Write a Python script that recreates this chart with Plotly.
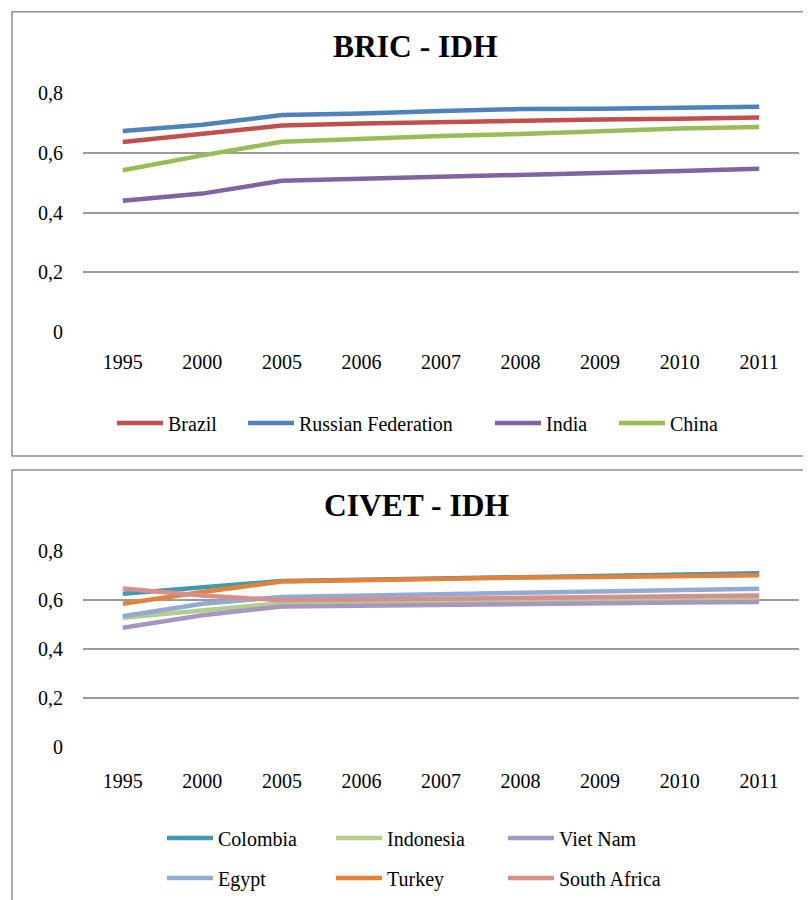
import plotly.graph_objects as go

# page has an 8px body margin; build the figure in reference pixels minus that offset
OFF = 8
W, H = 811 - OFF, 900 - OFF

years = ["1995", "2000", "2005", "2006", "2007", "2008", "2009", "2010", "2011"]
y_tickvals = [0, 0.2, 0.4, 0.6, 0.8]
y_ticktext = ["0", "0,2", "0,4", "0,6", "0,8"]

# BRIC
brazil = [0.637, 0.664, 0.692, 0.699, 0.704, 0.708, 0.712, 0.715, 0.719]
russia = [0.674, 0.695, 0.727, 0.732, 0.741, 0.747, 0.748, 0.753, 0.755]
india = [0.440, 0.464, 0.507, 0.513, 0.521, 0.527, 0.533, 0.540, 0.547]
china = [0.542, 0.592, 0.638, 0.648, 0.657, 0.664, 0.674, 0.682, 0.687]

# CIVET
colombia = [0.627, 0.654, 0.679, 0.684, 0.690, 0.695, 0.700, 0.706, 0.711]
indonesia = [0.529, 0.560, 0.588, 0.592, 0.596, 0.599, 0.602, 0.605, 0.608]
vietnam = [0.488, 0.539, 0.575, 0.579, 0.583, 0.586, 0.589, 0.591, 0.593]
egypt = [0.535, 0.586, 0.614, 0.620, 0.626, 0.631, 0.637, 0.643, 0.647]
turkey = [0.586, 0.634, 0.677, 0.683, 0.689, 0.693, 0.695, 0.700, 0.703]
south_africa = [0.648, 0.620, 0.600, 0.603, 0.606, 0.609, 0.612, 0.617, 0.620]

bric = [
    ("Brazil", brazil, "#C0504D"),
    ("Russian Federation", russia, "#4F81BD"),
    ("India", india, "#8064A2"),
    ("China", china, "#9BBB59"),
]
civet = [
    ("Colombia", colombia, "#4198AF"),
    ("Indonesia", indonesia, "#B5CC8E"),
    ("Viet Nam", vietnam, "#A697C2"),
    ("Egypt", egypt, "#93AAD2"),
    ("Turkey", turkey, "#E3823A"),
    ("South Africa", south_africa, "#D58F8D"),
]

# legend line-start positions in reference pixels (x, y)
bric_leg_pos = [(117, 423), (248, 423), (495, 423), (619, 423)]
civet_leg_pos = [(167, 838), (336, 838), (508, 838), (167, 878), (336, 878), (508, 878)]

FONT = "Liberation Serif, Times New Roman, DejaVu Serif, serif"


def px(x):
    return (x - OFF) / W


def py(y):
    return 1 - (y - OFF) / H


fig = go.Figure()
layout_legends = {}
k = 0


def leg(lx, ly):
    return dict(x=px(lx - 5), y=py(ly), xanchor="left", yanchor="middle",
                orientation="h", font=dict(family=FONT, size=20, color="#000"),
                bgcolor="rgba(0,0,0,0)", itemwidth=46, tracegroupgap=0)


for (name, vals, col), (lx, ly) in zip(bric, bric_leg_pos):
    k += 1
    lname = "legend" if k == 1 else f"legend{k}"
    fig.add_trace(go.Scatter(x=years, y=vals, name=name, mode="lines",
                             line=dict(color=col, width=4.5),
                             xaxis="x", yaxis="y", legend=lname))
    layout_legends[lname] = leg(lx, ly)
for (name, vals, col), (lx, ly) in zip(civet, civet_leg_pos):
    k += 1
    lname = f"legend{k}"
    fig.add_trace(go.Scatter(x=years, y=vals, name=name, mode="lines",
                             line=dict(color=col, width=4.5),
                             xaxis="x2", yaxis="y2", legend=lname))
    layout_legends[lname] = leg(lx, ly)

xd = [px(83), px(799)]
xcommon = dict(type="category", categoryorder="array", categoryarray=years,
               range=[-0.5, 8.5], showgrid=False, showline=False, zeroline=False,
               ticks="", tickfont=dict(family=FONT, size=20, color="#000"), domain=xd)
ycommon = dict(range=[-0.002, 0.802], tickvals=y_tickvals, ticktext=y_ticktext,
               showgrid=True, gridcolor="#9A9A9A", gridwidth=1.5, zeroline=False,
               showline=False, ticks="", tickfont=dict(family=FONT, size=20, color="#000"),
               ticklabelstandoff=19)

fig.update_layout(
    width=W, height=H, margin=dict(l=0, r=0, t=0, b=0, autoexpand=False),
    paper_bgcolor="white", plot_bgcolor="white",
    showlegend=True,
    xaxis=dict(xcommon, anchor="y", ticklabelstandoff=15),
    yaxis=dict(ycommon, anchor="x", domain=[py(332.7), py(92.7)]),
    xaxis2=dict(xcommon, anchor="y2", ticklabelstandoff=20),
    yaxis2=dict(ycommon, anchor="x2", domain=[py(747.3), py(551)]),
    **layout_legends,
    shapes=[
        dict(type="rect", xref="paper", yref="paper", x0=px(12), x1=1.02,
             y0=py(456), y1=py(11.7), line=dict(color="#8E8E8E", width=1.5)),
        dict(type="rect", xref="paper", yref="paper", x0=px(12), x1=1.02,
             y0=-0.02, y1=py(470), line=dict(color="#8E8E8E", width=1.5)),
    ],
    annotations=[
        dict(text="<b>BRIC - IDH</b>", x=px(415), y=py(47), xref="paper", yref="paper",
             showarrow=False, xanchor="center", yanchor="middle",
             font=dict(family=FONT, size=31.5, color="#000")),
        dict(text="<b>CIVET - IDH</b>", x=px(416), y=py(505), xref="paper", yref="paper",
             showarrow=False, xanchor="center", yanchor="middle",
             font=dict(family=FONT, size=31.5, color="#000")),
    ],
)

fig.write_html("out.html")
